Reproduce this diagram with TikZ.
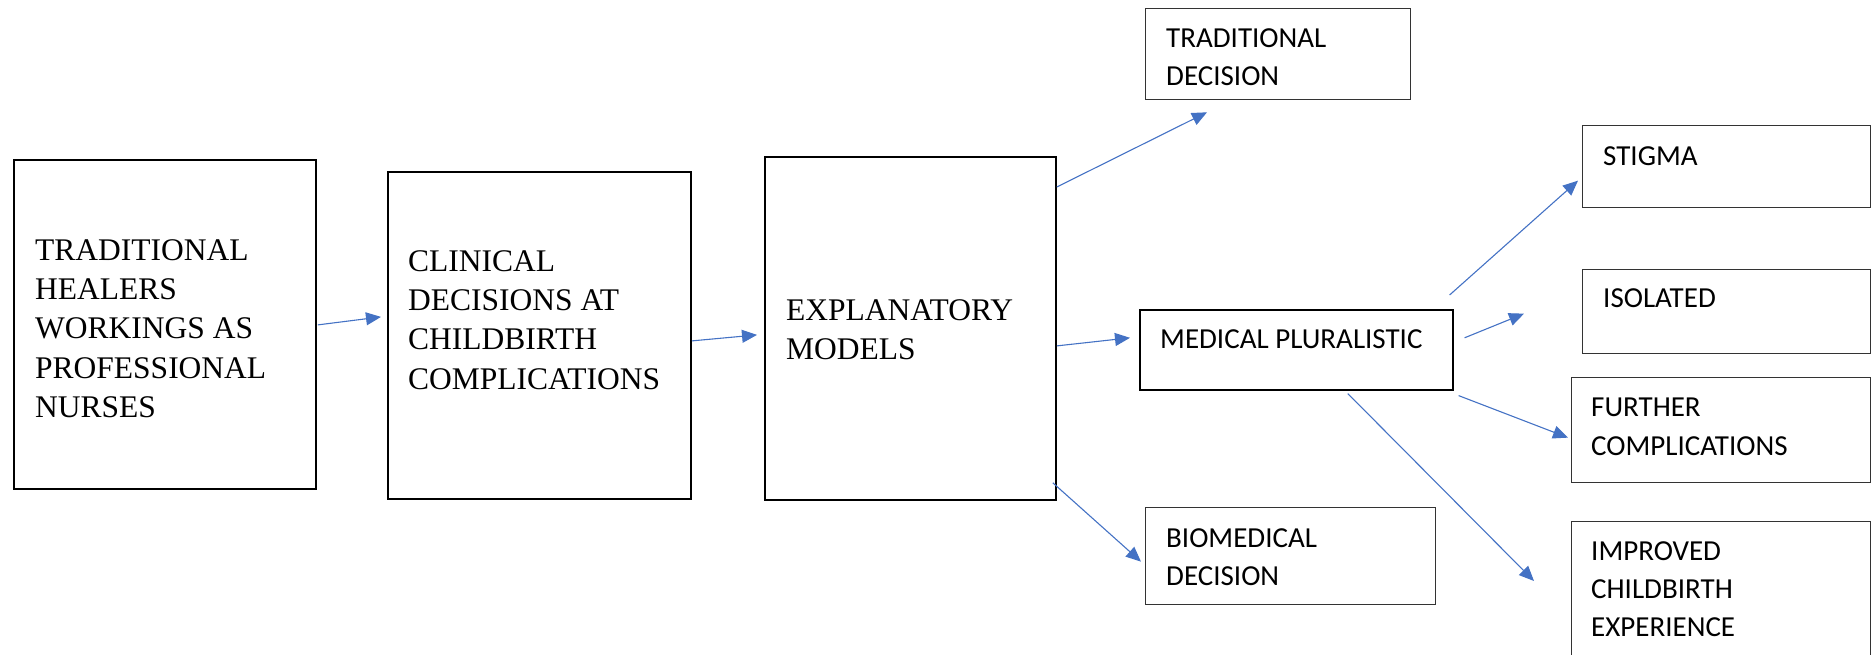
\documentclass[tikz,border=0pt]{standalone}
\usepackage{fontspec}
\setmainfont{Liberation Serif}
\newfontfamily\calibrifont{Carlito}
\usepackage{tikz}
\usetikzlibrary{arrows.meta,calc}
\definecolor{arrowblue}{HTML}{4472C4}
\tikzset{
    bigbox/.style={draw=black, line width=1.8pt, anchor=north west, inner sep=0pt},
    smallbox/.style={draw=black!80, line width=1.3pt, anchor=north west, inner sep=0pt},
    seriftext/.style={anchor=north west, inner sep=0pt, align=left, font=\fontsize{31.5}{39.4}\selectfont},
    sanstext/.style={anchor=north west, inner sep=0pt, align=left, font=\calibrifont\fontsize{29}{38.2}\selectfont},
    flow/.style={draw=arrowblue, line width=1.1pt, -{Triangle[length=15pt,width=13pt]}}
}
\begin{document}
\begin{tikzpicture}[x=1pt,y=-1pt]
            \useasboundingbox (0,0) rectangle (1872,655);

            \node[bigbox, minimum width=302pt, minimum height=329pt] (healers) at (13,159) {};
            \node[bigbox, minimum width=303pt, minimum height=327pt] (clinical) at (387,171) {};
            \node[bigbox, minimum width=291pt, minimum height=343pt] (models) at (764,156) {};
            \node[smallbox, minimum width=265pt, minimum height=91pt] (tradec) at (1145,8) {};
            \node[bigbox, line width=1.6pt, minimum width=313pt, minimum height=80pt] (medical) at (1139,309) {};
            \node[smallbox, minimum width=290pt, minimum height=97pt] (biomed) at (1145,507) {};
            \node[smallbox, minimum width=288pt, minimum height=82pt] (stigma) at (1582,125) {};
            \node[smallbox, minimum width=288pt, minimum height=84pt] (isolated) at (1582,269) {};
            \node[smallbox, minimum width=299pt, minimum height=105pt] (further) at (1571,377) {};
            \node[smallbox, minimum width=299pt, minimum height=150pt] (improved) at (1571,521) {};

            \node[seriftext] (healers-t) at ($(healers.north west)+(22,80)$) {TRADITIONAL\\HEALERS\\WORKINGS AS\\PROFESSIONAL\\NURSES};
            \node[seriftext] (clinical-t) at ($(clinical.north west)+(21,79)$) {CLINICAL\\DECISIONS AT\\CHILDBIRTH\\COMPLICATIONS};
            \node[seriftext] (models-t) at ($(models.north west)+(22,143)$) {EXPLANATORY\\MODELS};
            \node[sanstext] (tradec-t) at ($(tradec.north west)+(21,20)$) {TRADITIONAL\\DECISION};
            \node[sanstext] (medical-t) at ($(medical.north west)+(21,20)$) {MEDICAL PLURALISTIC};
            \node[sanstext] (biomed-t) at ($(biomed.north west)+(21,21)$) {BIOMEDICAL\\DECISION};
            \node[sanstext] (stigma-t) at ($(stigma.north west)+(21,21)$) {STIGMA};
            \node[sanstext] (isolated-t) at ($(isolated.north west)+(21,19)$) {ISOLATED};
            \node[sanstext] (further-t) at ($(further.north west)+(20,21)$) {FURTHER\\COMPLICATIONS};
            \node[sanstext] (improved-t) at ($(improved.north west)+(20,20)$) {IMPROVED\\CHILDBIRTH\\EXPERIENCE};

            \draw[flow] ($(healers.east)+(1,0.5)$) -- ($(clinical.west)+(-6,-18.5)$);
            \draw[flow] ($(clinical.east)+(0,5.5)$) -- ($(models.west)+(-7,6.5)$);
            \draw[flow] ($(models.north east)+(0,31)$) -- ($(tradec.south west)+(62,12)$);
            \draw[flow] ($(models.east)+(0,17.5)$) -- ($(medical.west)+(-9,-12)$);
            \draw[flow] ($(models.south east)+(-4,-18)$) -- ($(biomed.west)+(-4,5.5)$);
            \draw[flow] ($(medical.north east)+(-4,-14)$) -- ($(stigma.west)+(-4,14)$);
            \draw[flow] ($(medical.east)+(11,-12)$) -- ($(isolated.west)+(-58,2)$);
            \draw[flow] ($(medical.south east)+(5,5)$) -- ($(further.west)+(-3,7.5)$);
            \draw[flow] ($(medical.south)+(51.5,3)$) -- ($(improved.north west)+(-37,60)$);
\end{tikzpicture}
\end{document}
